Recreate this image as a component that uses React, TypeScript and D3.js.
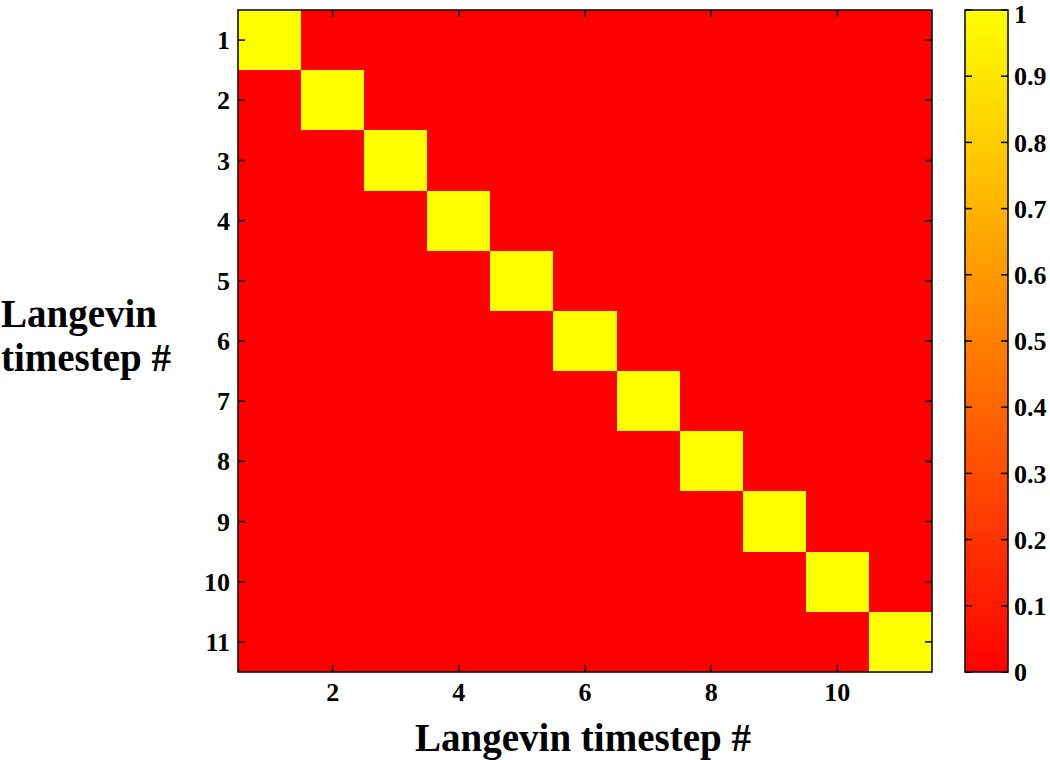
import React from "react"
import * as d3 from "d3"

const steps = [1, 2, 3, 4, 5, 6, 7, 8, 9, 10, 11]
const xTicks = [2, 4, 6, 8, 10]
const cbTicks = [0, 0.1, 0.2, 0.3, 0.4, 0.5, 0.6, 0.7, 0.8, 0.9, 1]
// correlation matrix rows (row = y step, col = x step)
const matrix = [
  [1, 0, 0, 0, 0, 0, 0, 0, 0, 0, 0],
  [0, 1, 0, 0, 0, 0, 0, 0, 0, 0, 0],
  [0, 0, 1, 0, 0, 0, 0, 0, 0, 0, 0],
  [0, 0, 0, 1, 0, 0, 0, 0, 0, 0, 0],
  [0, 0, 0, 0, 1, 0, 0, 0, 0, 0, 0],
  [0, 0, 0, 0, 0, 1, 0, 0, 0, 0, 0],
  [0, 0, 0, 0, 0, 0, 1, 0, 0, 0, 0],
  [0, 0, 0, 0, 0, 0, 0, 1, 0, 0, 0],
  [0, 0, 0, 0, 0, 0, 0, 0, 1, 0, 0],
  [0, 0, 0, 0, 0, 0, 0, 0, 0, 1, 0],
  [0, 0, 0, 0, 0, 0, 0, 0, 0, 0, 1],
]

const W = 1050, H = 760
const plot = { left: 238, top: 10, right: 932, bottom: 672 }
const cb = { left: 965, right: 1008 }
const font = "'Liberation Serif', 'Times New Roman', serif"

// autumn colormap: red -> yellow
const autumn = (v: number) => `rgb(255,${Math.round(255 * v)},0)`

export default function App() {
  const x = d3.scaleLinear().domain([0.5, 11.5]).range([plot.left, plot.right])
  const y = d3.scaleLinear().domain([0.5, 11.5]).range([plot.top, plot.bottom])
  const c = d3.scaleLinear().domain([0, 1]).range([plot.bottom, plot.top])
  const tick = 7

  const cells: { r: number; col: number; v: number }[] = []
  matrix.forEach((row, i) => row.forEach((v, j) => cells.push({ r: steps[i], col: steps[j], v })))

  const grad = d3.range(0, 1.0001, 0.05)

  return (
    <svg width={W} height={H} style={{ position: "absolute", left: 0, top: 0 }} fontFamily={font} fontWeight="bold">
      <defs>
        <linearGradient id="cbg" x1="0" y1="1" x2="0" y2="0">
          {grad.map(g => <stop key={g} offset={g} stopColor={autumn(g)} />)}
        </linearGradient>
      </defs>
      <rect x={plot.left} y={plot.top} width={plot.right - plot.left} height={plot.bottom - plot.top} fill={autumn(0)} />
      {cells.filter(d => d.v > 0).map(d => (
        <rect key={d.r + "-" + d.col} x={Math.round(x(d.col - 0.5))} y={Math.round(y(d.r - 0.5))}
          width={Math.round(x(d.col + 0.5)) - Math.round(x(d.col - 0.5))}
          height={Math.round(y(d.r + 0.5)) - Math.round(y(d.r - 0.5))}
          fill={autumn(d.v)} shapeRendering="crispEdges" />
      ))}
      <rect x={plot.left} y={plot.top} width={plot.right - plot.left} height={plot.bottom - plot.top} fill="none" stroke="#000" strokeWidth={1.5} />
      {steps.map(s => (
        <g key={"y" + s}>
          <line x1={plot.left} x2={plot.left + tick} y1={y(s)} y2={y(s)} stroke="#000" strokeWidth={1.5} />
          <line x1={plot.right} x2={plot.right - tick} y1={y(s)} y2={y(s)} stroke="#000" strokeWidth={1.5} />
          <text x={plot.left - 8} y={y(s)} dy="0.35em" textAnchor="end" fontSize={26}>{s}</text>
        </g>
      ))}
      {xTicks.map(s => (
        <g key={"x" + s}>
          <line x1={x(s)} x2={x(s)} y1={plot.bottom} y2={plot.bottom - tick} stroke="#000" strokeWidth={1.5} />
          <line x1={x(s)} x2={x(s)} y1={plot.top} y2={plot.top + tick} stroke="#000" strokeWidth={1.5} />
          <text x={x(s)} y={plot.bottom + 29} textAnchor="middle" fontSize={26}>{s}</text>
        </g>
      ))}
      <text x={(plot.left + plot.right) / 2 - 2} y={751} textAnchor="middle" fontSize={39}>Langevin timestep #</text>
      <text x={1} y={327} fontSize={39}>Langevin</text>
      <text x={1} y={371} fontSize={39}>timestep #</text>

      <rect x={cb.left} y={plot.top} width={cb.right - cb.left} height={plot.bottom - plot.top} fill="url(#cbg)" stroke="#000" strokeWidth={1.5} />
      {cbTicks.map(t => (
        <g key={"c" + t}>
          <line x1={cb.left} x2={cb.left + tick} y1={c(t)} y2={c(t)} stroke="#000" strokeWidth={1.5} />
          <line x1={cb.right} x2={cb.right - tick} y1={c(t)} y2={c(t)} stroke="#000" strokeWidth={1.5} />
          <text x={cb.right + 6} y={c(t)} dy={t === 1 ? "0.5em" : "0.35em"} fontSize={26}>{t}</text>
        </g>
      ))}
    </svg>
  )
}
